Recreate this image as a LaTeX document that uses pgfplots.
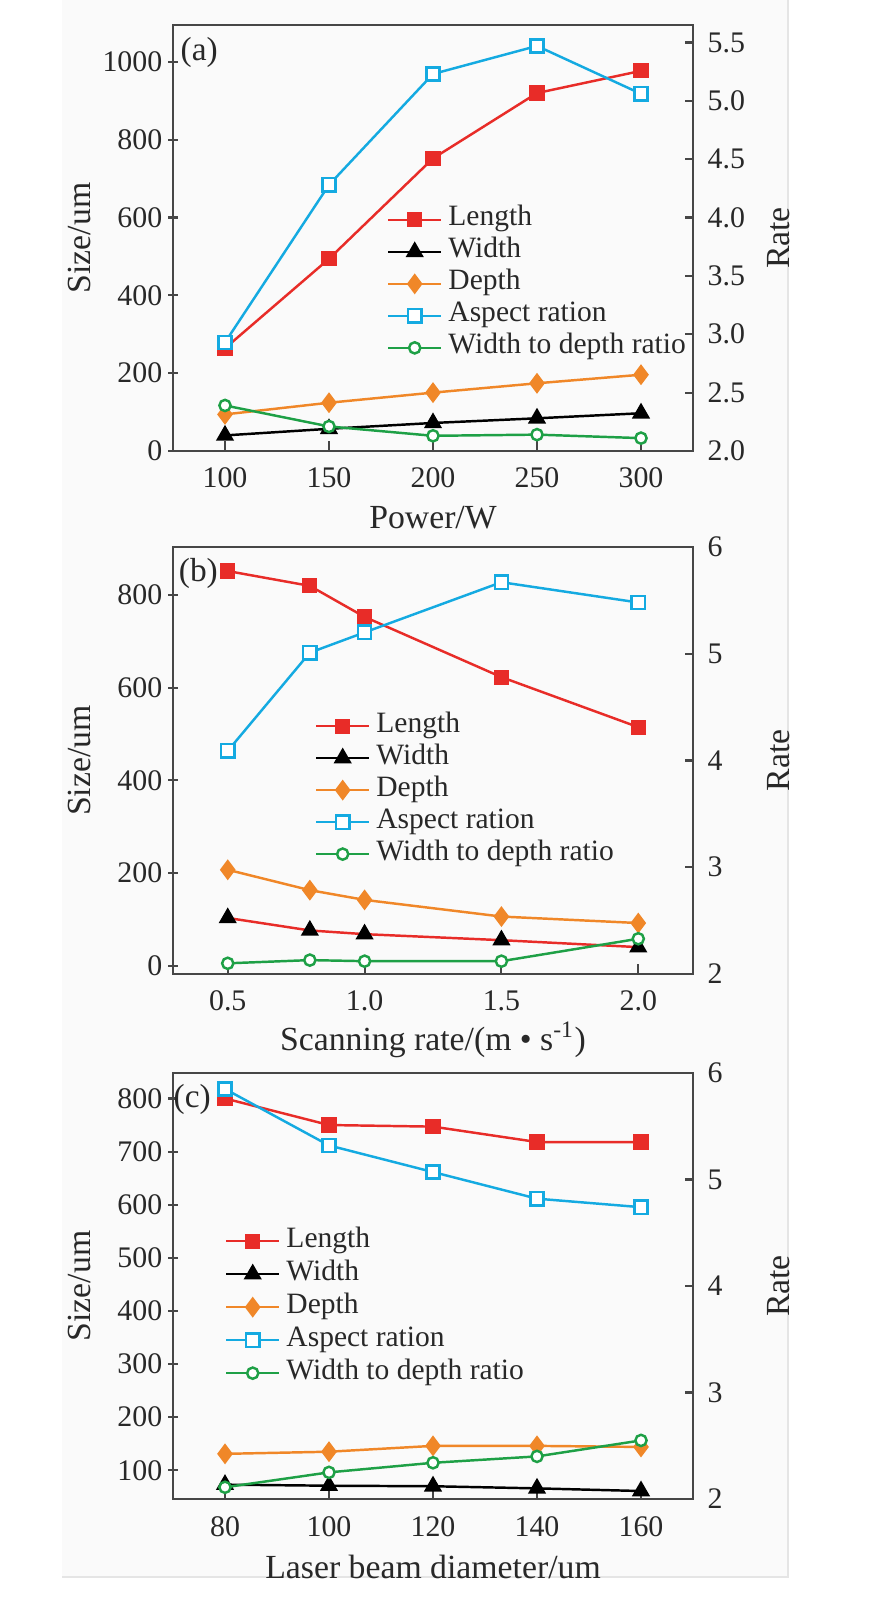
\documentclass[border=0pt]{standalone}
\usepackage{pgfplots}
\pgfplotsset{compat=1.18}
\usepackage{fontspec}
\setmainfont{Liberation Serif}
\definecolor{cred}{RGB}{232,44,40}
\definecolor{corange}{RGB}{240,135,40}
\definecolor{cblue}{RGB}{20,170,225}
\definecolor{cgreen}{RGB}{30,160,70}
\definecolor{axisc}{RGB}{70,70,70}
\definecolor{textc}{RGB}{40,40,40}
\pgfplotsset{
  base/.style={scale only axis, width=52mm, anchor=south west,
    axis line style={line width=0.7pt, draw=axisc},
    every tick/.style={line width=0.6pt, draw=axisc},
    tick align=inside, major tick length=1.0mm,
    /pgf/number format/assume math mode=true, /pgf/number format/1000 sep={},
    label style={font=\fontsize{9.6}{11}\selectfont, text=textc},
    ticklabel style={font=\fontsize{8.5}{10}\selectfont, inner sep=0pt, text=textc},
  },
  leftax/.style={base, xtick pos=bottom, ytick pos=left,
    ytick style={xshift=-0.5mm},
    yticklabel style={anchor=east, xshift=-1mm},
    xticklabel style={anchor=base, yshift=-3.7mm},
    ylabel style={at={(axis description cs:-0.179,0.5)}, anchor=center},
  },
  rightax/.style={base, axis x line=none, axis y line*=right, ytick pos=right,
    major tick length=0.8mm,
    yticklabel style={anchor=west, xshift=1.4mm},
    ylabel style={at={(axis description cs:1.165,0.5)}, anchor=center},
    legend style={draw=none, fill=none, anchor=north west, inner sep=0pt, outer sep=0pt,
      row sep=0pt, column sep=0.6mm, font=\fontsize{8.4}{9}\selectfont, text=textc,
      nodes={inner sep=0pt, text height=2.2mm, text depth=1.0mm}},
    legend cell align=left,
    legend image code/.code={\draw[mark repeat=2,mark phase=2,##1] plot coordinates {(0mm,0mm) (2.65mm,0mm) (5.3mm,0mm)};},
  },
  lenS/.style={cred, line width=0.7pt, mark=square*, mark size=1.8pt, mark options={solid, fill=cred}},
  widS/.style={black, line width=0.7pt, mark=triangle*, mark size=2.3pt, mark options={solid, fill=black}},
  depS/.style={corange, line width=0.7pt, mark=diamond*, mark size=2.4pt, mark options={solid, fill=corange}},
  aspS/.style={cblue, line width=0.7pt, mark=square*, mark size=1.9pt, mark options={solid, fill=white}},
  wdS/.style={cgreen, line width=0.7pt, mark=*, mark size=1.6pt, mark options={solid, fill=white}},
}
\begin{document}
\begin{tikzpicture}
\path[use as bounding box] (0,0) rectangle (89.3mm,160.6mm);
\fill[black!2] (6.2mm,2.9mm) rectangle (78.8mm,160.6mm);
\draw[black!10, line width=0.3pt] (78.8mm,160.6mm) -- (78.8mm,2.9mm) -- (6.2mm,2.9mm);

% ---------------- (a)
\begin{axis}[leftax, at={(17.3mm,115.5mm)}, height=42.6mm,
  xmin=75, xmax=325, ymin=0, ymax=1095,
  xtick={100,150,200,250,300}, ytick={0,200,400,600,800,1000},
  xlabel={Power/W}, ylabel={Size/um},
  xlabel style={at={(axis description cs:0.5,-0.157)}, anchor=center}]
\addplot[lenS] coordinates {(100,264) (150,494) (200,752) (250,920) (300,977)};
\addplot[widS] coordinates {(100,40) (150,57) (200,72) (250,84) (300,97)};
\addplot[depS] coordinates {(100,94) (150,124) (200,150) (250,174) (300,196)};
\node[anchor=west, inner sep=0pt, font=\fontsize{9.5}{11}\selectfont, text=textc] at (axis description cs:0.0135,0.9366) {(a)};
\end{axis}
\begin{axis}[rightax, at={(17.3mm,115.5mm)}, height=42.6mm,
  xmin=75, xmax=325, ymin=2, ymax=5.65,
  ytick={2,2.5,3,3.5,4,4.5,5,5.5},
  yticklabel style={/pgf/number format/.cd, fixed, fixed zerofill, precision=1},
  ylabel={Rate},
  legend style={at={(axis description cs:0.4115,0.58)}}]
\addlegendimage{lenS}\addlegendentry{Length}
\addlegendimage{widS}\addlegendentry{Width}
\addlegendimage{depS}\addlegendentry{Depth}
\addplot[aspS] coordinates {(100,2.93) (150,4.28) (200,5.23) (250,5.47) (300,5.06)};
\addlegendentry{Aspect ration}
\addplot[wdS] coordinates {(100,2.39) (150,2.21) (200,2.13) (250,2.14) (300,2.11)};
\addlegendentry{Width to depth ratio}
\end{axis}

% ---------------- (b)
\begin{axis}[leftax, at={(17.3mm,63.2mm)}, height=42.7mm,
  xmin=0.3, xmax=2.2, ymin=-18, ymax=904,
  xtick={0.5,1.0,1.5,2.0}, ytick={0,200,400,600,800},
  xticklabel style={/pgf/number format/.cd, fixed, fixed zerofill, precision=1},
  xlabel={Scanning rate/(m \textbullet\ s\textsuperscript{-1})}, ylabel={Size/um},
  xlabel style={at={(axis description cs:0.5,-0.155)}, anchor=center}]
\addplot[lenS] coordinates {(0.5,852) (0.8,820) (1.0,753) (1.5,623) (2.0,515)};
\addplot[widS, cred, mark options={draw=black, fill=black}] coordinates {(0.5,103) (0.8,76) (1.0,68) (1.5,55) (2.0,40)};
\addplot[depS] coordinates {(0.5,207) (0.8,163) (1.0,142) (1.5,106) (2.0,92)};
\node[anchor=west, inner sep=0pt, font=\fontsize{9.5}{11}\selectfont, text=textc] at (axis description cs:0.01,0.939) {(b)};
\end{axis}
\begin{axis}[rightax, at={(17.3mm,63.2mm)}, height=42.7mm,
  xmin=0.3, xmax=2.2, ymin=2, ymax=6,
  ytick={2,3,4,5,6},
  ylabel={Rate},
  legend style={at={(axis description cs:0.273,0.618)}}]
\addlegendimage{lenS}\addlegendentry{Length}
\addlegendimage{widS}\addlegendentry{Width}
\addlegendimage{depS}\addlegendentry{Depth}
\addplot[aspS] coordinates {(0.5,4.09) (0.8,5.01) (1.0,5.20) (1.5,5.67) (2.0,5.48)};
\addlegendentry{Aspect ration}
\addplot[wdS] coordinates {(0.5,2.10) (0.8,2.13) (1.0,2.12) (1.5,2.12) (2.0,2.33)};
\addlegendentry{Width to depth ratio}
\end{axis}

% ---------------- (c)
\begin{axis}[leftax, at={(17.3mm,10.7mm)}, height=42.6mm,
  xmin=70, xmax=170, ymin=46, ymax=848,
  xtick={80,100,120,140,160}, ytick={100,200,300,400,500,600,700,800},
  xlabel={Laser beam diameter/um}, ylabel={Size/um},
  xlabel style={at={(axis description cs:0.5,-0.16)}, anchor=center}]
\addplot[lenS] coordinates {(80,800) (100,750) (120,747) (140,718) (160,718)};
\addplot[widS] coordinates {(80,73) (100,71) (120,70) (140,66) (160,61)};
\addplot[depS] coordinates {(80,131) (100,135) (120,146) (140,146) (160,144)};
\node[anchor=west, inner sep=0pt, font=\fontsize{9.5}{11}\selectfont, text=textc] at (axis description cs:0.0,0.937) {(c)};
\end{axis}
\begin{axis}[rightax, at={(17.3mm,10.7mm)}, height=42.6mm,
  xmin=70, xmax=170, ymin=2, ymax=6,
  ytick={2,3,4,5,6},
  ylabel={Rate},
  legend style={at={(axis description cs:0.1,0.644)}, nodes={text height=2.25mm, text depth=1.05mm}}]
\addlegendimage{lenS}\addlegendentry{Length}
\addlegendimage{widS}\addlegendentry{Width}
\addlegendimage{depS}\addlegendentry{Depth}
\addplot[aspS] coordinates {(80,5.85) (100,5.32) (120,5.07) (140,4.82) (160,4.74)};
\addlegendentry{Aspect ration}
\addplot[wdS] coordinates {(80,2.11) (100,2.25) (120,2.34) (140,2.40) (160,2.55)};
\addlegendentry{Width to depth ratio}
\end{axis}
\end{tikzpicture}
\end{document}
